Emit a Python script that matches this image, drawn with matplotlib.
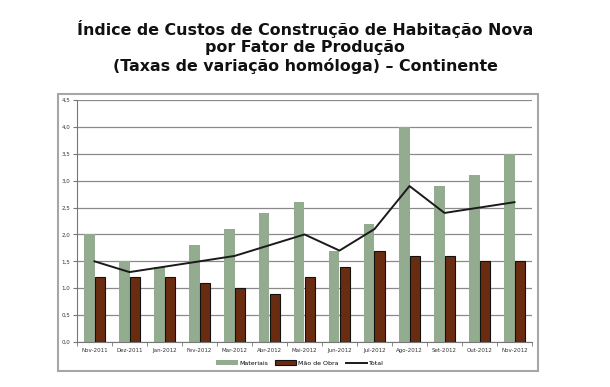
import matplotlib
matplotlib.use("Agg")
import matplotlib.pyplot as plt
import numpy as np
from matplotlib.patches import Rectangle
from matplotlib.ticker import FuncFormatter, MultipleLocator

categories = ["Nov-2011", "Dez-2011", "Jan-2012", "Fev-2012", "Mar-2012", "Abr-2012",
              "Mai-2012", "Jun-2012", "Jul-2012", "Ago-2012", "Set-2012", "Out-2012", "Nov-2012"]
materiais = [2.0, 1.5, 1.4, 1.8, 2.1, 2.4, 2.6, 1.7, 2.2, 4.0, 2.9, 3.1, 3.5]
mao_de_obra = [1.2, 1.2, 1.2, 1.1, 1.0, 0.9, 1.2, 1.4, 1.7, 1.6, 1.6, 1.5, 1.5]
total = [1.5, 1.3, 1.4, 1.5, 1.6, 1.8, 2.0, 1.7, 2.1, 2.9, 2.4, 2.5, 2.6]

title = "Índice de Custos de Construção de Habitação Nova\npor Fator de Produção\n(Taxas de variação homóloga) – Continente"

fig = plt.figure(figsize=(6.1, 3.87), dpi=100)
fig.patch.set_facecolor("white")

# outer chart frame
fig.patches.append(Rectangle((58/610, 1-371/387), (538-58)/610, (371-94)/387,
                             transform=fig.transFigure, fill=False,
                             edgecolor="#a6a6a6", linewidth=1.5, zorder=0))

fig.text(0.5, 1-47/387, title, ha="center", va="center", fontsize=11.4,
         fontweight="bold", linespacing=1.2, color="#111111")

ax = fig.add_axes([77/610, 1-342/387, (532-77)/610, (342-100)/387])
x = np.arange(len(categories))
w = 0.31
b1 = ax.bar(x - w/2, materiais, width=w, color="#93ab8f", edgecolor="none", label="Materiais", zorder=2)
b2 = ax.bar(x + w/2, mao_de_obra, width=w, color="#6a2c10", edgecolor="#111111", linewidth=0.8,
            label="Mão de Obra", zorder=3)
l1, = ax.plot(x, total, color="#1a1a1a", linewidth=1.4, label="Total", zorder=4)

ax.set_xlim(-0.5, len(categories) - 0.5)
ax.set_ylim(0, 4.5)
ax.yaxis.set_major_locator(MultipleLocator(0.5))
ax.yaxis.set_major_formatter(FuncFormatter(lambda v, p: f"{v:.1f}".replace(".", ",")))
ax.yaxis.grid(True, color="#8a8a8a", linewidth=0.9, zorder=1)
ax.set_axisbelow(True)

ax.set_xticks(x)
ax.set_xticklabels(categories)
ax.set_xticks(np.arange(-0.5, len(categories)), minor=True)
ax.tick_params(axis="x", which="major", length=0, labelsize=4, pad=4, labelcolor="#333333")
ax.tick_params(axis="x", which="minor", length=3, direction="out", color="#777777")
ax.tick_params(axis="y", length=3, direction="out", labelsize=4, pad=2, color="#777777",
               labelcolor="#333333")

for s in ["top", "right"]:
    ax.spines[s].set_visible(False)
ax.spines["left"].set_color("#777777")
ax.spines["bottom"].set_color("#777777")

fig.legend([b1, b2, l1], ["Materiais", "Mão de Obra", "Total"], loc="center",
           bbox_to_anchor=(300/610, 1-363/387), ncol=3,
           frameon=False, prop={"size": 4.5}, handlelength=3.4, handleheight=0.7,
           columnspacing=1.1, handletextpad=0.3, borderpad=0.2)

fig.savefig("out.png", dpi=100, facecolor="white")
